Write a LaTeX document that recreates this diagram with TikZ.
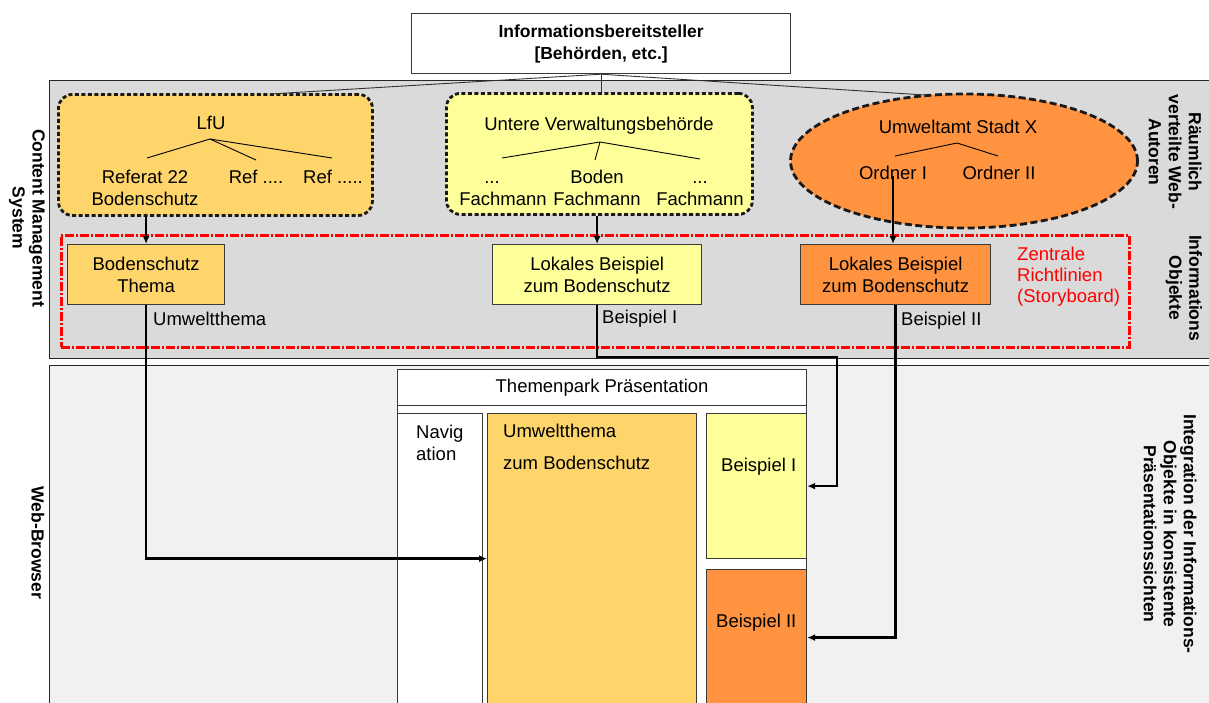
\documentclass[tikz,border=0pt]{standalone}
\usepackage{fontspec}
\setmainfont{Liberation Sans}
\usetikzlibrary{arrows.meta,shapes.geometric}
\definecolor{lfuc}{HTML}{FDD56B}
\definecolor{yelc}{HTML}{FFFF99}
\definecolor{orac}{HTML}{FF9340}
\definecolor{panelA}{HTML}{DADADA}
\definecolor{panelB}{HTML}{F1F1F1}
\definecolor{edge}{HTML}{3A3A3A}
\begin{document}
\begin{tikzpicture}[x=1pt,y=-1pt,
  txt/.style={font=\fontsize{18.5}{22}\selectfont, inner sep=0pt, align=center},
  side/.style={font=\fontsize{17.5}{20}\selectfont\bfseries, inner sep=0pt, align=center, rotate=-90},
  box/.style={draw=edge, line width=1.2pt, inner sep=0pt, anchor=north west},
  panel/.style={draw=black!85, line width=1.3pt, inner sep=0pt, anchor=north west},
  conn/.style={line width=2.4pt, black},
  arr/.style={conn, -{Latex[length=8pt,width=7pt]}},
  tree/.style={line width=0.9pt, black},
  authb/.style={draw=black!90, line width=2.8pt, dash pattern=on 4pt off 2.5pt, inner sep=0pt},
  storyb/.style={draw=red, line width=2.8pt, dash pattern=on 9pt off 2pt on 2pt off 2pt, inner sep=0pt, anchor=north west}
]
\useasboundingbox (0,0) rectangle (1209,702);

% panels
\node[panel, fill=panelA, minimum width=1170, minimum height=278] (cms) at (49,80) {};
\node[panel, fill=panelB, minimum width=1170, minimum height=350] (browser) at (49,365) {};

% top box
\node[box, fill=white, minimum width=379, minimum height=60, font=\fontsize{17.5}{22}\selectfont\bfseries, align=center] (info) at (411,13) {Informationsbereitsteller\\{[}Behörden, etc.{]}};

% author boxes
\node[authb, fill=lfuc, rounded corners=14pt, minimum width=314, minimum height=121, anchor=north west] (lfu) at (57,93) {};
\node[authb, fill=yelc, rounded corners=14pt, minimum width=306, minimum height=121, anchor=north west] (uvb) at (445,92) {};
\node[authb, ellipse, dash pattern=on 7pt off 3.5pt, fill=orac, minimum width=347, minimum height=134] (uamt) at (964,161) {};

% fan lines from top box
\coordinate (fanL) at (270,94);
\coordinate (fanR) at (925,95);
\draw[line width=0.9pt, black!80] (info.south) -- (fanL);
\draw[line width=0.9pt, black!80] (info.south) -- (fanR);
\draw[line width=0.9pt, black!80] (info.south) -- (info.south |- uvb.north);

% LfU contents
\node[txt] (lfut) at (211,123) {LfU};
\node[txt, anchor=base] (ref22a) at (145,183) {Referat 22};
\node[txt, anchor=base] (ref22b) at (145,205) {Bodenschutz};
\node[txt, anchor=base] (refa) at (256,183) {Ref ....};
\node[txt, anchor=base] (refb) at (333,183) {Ref .....};
\coordinate (lfuap) at (210,139);
\coordinate (lfuc1) at (147,158);
\coordinate (lfuc2) at (256,160);
\coordinate (lfuc3) at (332,158);
\draw[tree] (lfuc1) -- (lfuap) -- (lfuc2);
\draw[tree] (lfuap) -- (lfuc3);

% UVB contents
\node[txt] (uvbt) at (599,126) {Untere Verwaltungsbehörde};
\node[txt, anchor=base] (d1) at (492,183) {...};
\node[txt, anchor=base] (fm1) at (503,205) {Fachmann};
\node[txt, anchor=base] (bod) at (597,183) {Boden};
\node[txt, anchor=base] (fm2) at (597,205) {Fachmann};
\node[txt, anchor=base] (d3) at (700,183) {...};
\node[txt, anchor=base] (fm3) at (700,205) {Fachmann};
\coordinate (uvbap) at (600,142);
\coordinate (uvbc1) at (502,158);
\coordinate (uvbc2) at (595,160);
\coordinate (uvbc3) at (700,159);
\draw[tree] (uvbc1) -- (uvbap) -- (uvbc3);
\draw[tree] (uvbap) -- (uvbc2);

% Umweltamt contents
\node[txt] (uamtt) at (958,127) {Umweltamt Stadt X};
\node[txt] (ord1) at (893,173) {Ordner I};
\node[txt] (ord2) at (999,173) {Ordner II};
\coordinate (uamtap) at (957,143);
\coordinate (uamtc1) at (895,156);
\coordinate (uamtc2) at (998,156);
\draw[tree] (uamtc1) -- (uamtap) -- (uamtc2);

% storyboard frame
\node[storyb, minimum width=1068, minimum height=112] (story) at (60,234) {};
\node[txt, text=red, align=left, anchor=west, font=\fontsize{18.5}{21}\selectfont] (zentral) at (1017,277) {Zentrale\\Richtlinien\\(Storyboard)};

% information objects
\node[box, fill=lfuc, minimum width=157, minimum height=60, align=center, font=\fontsize{18.5}{22}\selectfont] (thema) at (67,244) {Bodenschutz\\Thema};
\node[box, fill=yelc, minimum width=209, minimum height=60, align=center, font=\fontsize{18.5}{22}\selectfont] (lok1) at (492,244) {Lokales Beispiel\\zum Bodenschutz};
\node[box, fill=orac, minimum width=190, minimum height=60, align=center, font=\fontsize{18.5}{22}\selectfont] (lok2) at (800,244) {Lokales Beispiel\\zum Bodenschutz};
\node[txt, anchor=west] (lbl1) at (153,319) {Umweltthema};
\node[txt, anchor=west] (lbl2) at (602,319) {Beispiel I};
\node[txt, anchor=west] (lbl3) at (901,321) {Beispiel II};

% side labels
\node[side] (lcms) at (27,218) {Content Management\\System};
\node[side] (lauth) at (1175,152) {Räumlich\\verteilte Web-\\Autoren};
\node[side] (lobj) at (1184,288) {Informations\\Objekte};
\node[side] (lint) at (1170,534) {Integration der Informations-\\Objekte in konsistente\\Präsentationssichten};
\node[side] (lweb) at (38,543) {Web-Browser};

% Themenpark presentation
\node[box, fill=white, minimum width=409, minimum height=345] (tp) at (397,369) {};
\node[box, fill=white, minimum width=409, minimum height=36, font=\fontsize{18.5}{22}\selectfont] (tptitle) at (397,369) {Themenpark Präsentation};
\node[box, fill=white, minimum width=85, minimum height=300] (nav) at (397,413) {};
\node[box, fill=lfuc, minimum width=209, minimum height=290] (umw) at (487,413) {};
\node[box, fill=yelc, minimum width=100, minimum height=145] (bsp1) at (706,413) {};
\node[box, fill=orac, minimum width=100, minimum height=136] (bsp2) at (706,569) {};
\node[txt, anchor=west, align=left] (navt) at (416,443) {Navig\\ation};
\node[txt, anchor=west] (umwt1) at (503,431) {Umweltthema};
\node[txt, anchor=west] (umwt2) at (503,463) {zum Bodenschutz};
\node[txt, anchor=west] (bsp1t) at (721,467) {Beispiel I};
\node[txt, anchor=west] (bsp2t) at (716,623) {Beispiel II};

% connectors
\draw[arr] (lfu.south -| thema.north) -- (thema.north);
\draw[arr] (uvb.south -| lok1.north) -- (lok1.north);
\draw[arr] ([yshift=4pt]ord1.south) -- (ord1.south |- lok2.north);
\coordinate (c1) at (837,357);
\draw[arr] (thema.south) |- (umw.west);
\draw[arr] (lok1.south) |- (c1) |- (bsp1.east);
\draw[arr] (lok2.south) |- (bsp2.east);
\end{tikzpicture}
\end{document}
